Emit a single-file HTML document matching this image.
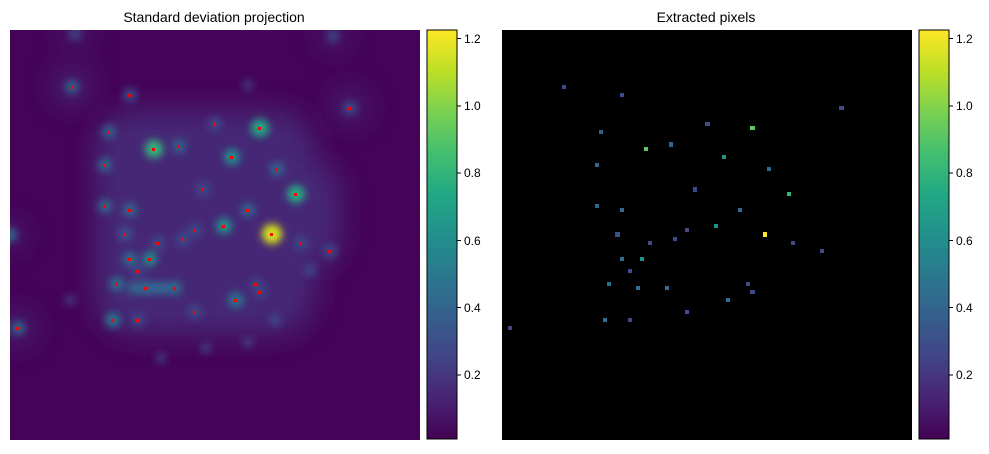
<!DOCTYPE html>
<html><head><meta charset="utf-8"><style>
body{margin:0;background:#fff;width:989px;height:449px;overflow:hidden;font-family:"Liberation Sans",sans-serif}
</style></head><body>
<svg width="989" height="449" xmlns="http://www.w3.org/2000/svg" font-family="Liberation Sans, sans-serif">
<defs>
<filter id="b" x="-50%" y="-50%" width="200%" height="200%"><feGaussianBlur stdDeviation="4"/></filter>
<filter id="h" x="-50%" y="-50%" width="200%" height="200%"><feGaussianBlur stdDeviation="14"/></filter>
<linearGradient id="vir" x1="0" y1="1" x2="0" y2="0">
<stop offset="0" stop-color="#440154"/><stop offset="0.1" stop-color="#482475"/><stop offset="0.2" stop-color="#414487"/><stop offset="0.3" stop-color="#355f8d"/><stop offset="0.4" stop-color="#2a788e"/><stop offset="0.5" stop-color="#21918c"/><stop offset="0.6" stop-color="#22a884"/><stop offset="0.7" stop-color="#44bf70"/><stop offset="0.8" stop-color="#7ad151"/><stop offset="0.9" stop-color="#bddf26"/><stop offset="1" stop-color="#fde725"/>
</linearGradient>
<clipPath id="cl"><rect x="10" y="30" width="410" height="410"/></clipPath>
</defs>
<text x="214" y="22" font-size="14" text-anchor="middle">Standard deviation projection</text>
<text x="706" y="22" font-size="14" text-anchor="middle">Extracted pixels</text>
<g clip-path="url(#cl)">
<rect x="10" y="30" width="410" height="410" fill="#450457"/>
<g filter="url(#h)" fill="#472d7b" opacity="0.85">
<rect x="95" y="110" width="220" height="225" rx="40"/>
<rect x="230" y="160" width="110" height="110" rx="30"/>
</g>
<g filter="url(#h)" fill="#46317e" opacity="0.6">
<circle cx="72" cy="87" r="20"/><circle cx="350" cy="107" r="18"/><circle cx="18" cy="328" r="18"/><circle cx="10" cy="235" r="14"/><circle cx="75" cy="32" r="14"/><circle cx="333" cy="35" r="14"/>
</g>
<g filter="url(#b)">
<circle cx="72" cy="87" r="7" fill="#33638d"/><circle cx="130" cy="95" r="7" fill="#3e4a89"/><circle cx="350" cy="108" r="7" fill="#3e4a89"/>
<circle cx="215" cy="124" r="7" fill="#3e4a89"/><circle cx="260" cy="128" r="9" fill="#22a884"/><circle cx="109" cy="132" r="7" fill="#33638d"/>
<circle cx="154" cy="149" r="9" fill="#35b779"/><circle cx="179" cy="146" r="7" fill="#33638d"/><circle cx="105" cy="165" r="7" fill="#31688e"/>
<circle cx="232" cy="157" r="8" fill="#21918c"/><circle cx="277" cy="169" r="7" fill="#31688e"/><circle cx="203" cy="189" r="7" fill="#3e4a89"/>
<circle cx="296" cy="194" r="9" fill="#27ad81"/><circle cx="105" cy="206" r="7" fill="#31688e"/><circle cx="130" cy="210" r="7" fill="#31688e"/>
<circle cx="248" cy="210" r="7" fill="#31688e"/><circle cx="224" cy="226" r="8" fill="#21918c"/><circle cx="195" cy="230" r="7" fill="#3e4a89"/>
<circle cx="272" cy="234" r="10" fill="#d8e219"/><circle cx="125" cy="234" r="7" fill="#3b528b"/><circle cx="158" cy="243" r="7" fill="#3e4a89"/>
<circle cx="183" cy="239" r="7" fill="#3e4a89"/><circle cx="301" cy="243" r="7" fill="#3e4a89"/><circle cx="330" cy="251" r="7" fill="#3e4a89"/>
<circle cx="130" cy="259" r="7" fill="#2c728e"/><circle cx="150" cy="259" r="7" fill="#21918c"/><circle cx="138" cy="271" r="6" fill="#3e4a89"/>
<circle cx="117" cy="284" r="7" fill="#2c728e"/><circle cx="256" cy="284" r="6" fill="#3e4a89"/><circle cx="146" cy="288" r="7" fill="#2c728e"/>
<circle cx="175" cy="288" r="7" fill="#2c728e"/><rect x="128" y="282" width="50" height="12" fill="#31688e"/><circle cx="260" cy="292" r="6" fill="#3e4a89"/>
<circle cx="236" cy="300" r="8" fill="#2c728e"/><circle cx="195" cy="312" r="7" fill="#3e4a89"/><circle cx="113" cy="320" r="8" fill="#2c728e"/>
<circle cx="138" cy="320" r="7" fill="#3e4a89"/><circle cx="18" cy="328" r="7" fill="#31688e"/><circle cx="10" cy="235" r="7" fill="#31688e"/>
<circle cx="75" cy="34" r="6" fill="#3e4a89"/><circle cx="333" cy="36" r="6" fill="#3e4a89"/><circle cx="70" cy="300" r="5" fill="#414487"/>
<circle cx="310" cy="270" r="6" fill="#3e4a89"/><circle cx="275" cy="320" r="6" fill="#3e4a89"/><circle cx="248" cy="342" r="5" fill="#414487"/>
<circle cx="161" cy="358" r="5" fill="#414487"/><circle cx="206" cy="348" r="5" fill="#414487"/><circle cx="248" cy="85" r="5" fill="#414487"/>
</g>
<g fill="#ff0000">
<rect x="71" y="86" width="3" height="3"/><rect x="128" y="94" width="3" height="3"/><rect x="348" y="107" width="3" height="3"/><rect x="213" y="123" width="3" height="3"/><rect x="258" y="127" width="3" height="3"/><rect x="107" y="131" width="3" height="3"/><rect x="152" y="148" width="3" height="3"/><rect x="177" y="145" width="3" height="3"/><rect x="103" y="164" width="3" height="3"/><rect x="230" y="156" width="3" height="3"/><rect x="275" y="168" width="3" height="3"/><rect x="201" y="188" width="3" height="3"/><rect x="294" y="193" width="3" height="3"/><rect x="103" y="205" width="3" height="3"/><rect x="128" y="209" width="3" height="3"/><rect x="246" y="209" width="3" height="3"/><rect x="222" y="225" width="3" height="3"/><rect x="193" y="229" width="3" height="3"/><rect x="270" y="233" width="3" height="3"/><rect x="123" y="233" width="3" height="3"/><rect x="156" y="242" width="3" height="3"/><rect x="181" y="238" width="3" height="3"/><rect x="299" y="242" width="3" height="3"/><rect x="328" y="250" width="3" height="3"/><rect x="128" y="258" width="3" height="3"/><rect x="148" y="258" width="3" height="3"/><rect x="136" y="270" width="3" height="3"/><rect x="115" y="283" width="3" height="3"/><rect x="254" y="283" width="3" height="3"/><rect x="144" y="287" width="3" height="3"/><rect x="173" y="287" width="3" height="3"/><rect x="258" y="291" width="3" height="3"/><rect x="234" y="299" width="3" height="3"/><rect x="193" y="311" width="3" height="3"/><rect x="111" y="319" width="3" height="3"/><rect x="136" y="319" width="3" height="3"/><rect x="16" y="327" width="3" height="3"/>
</g>
</g>
<rect x="502" y="30" width="410" height="410" fill="#000"/>
<g>
<rect x="562" y="85" width="4" height="4" fill="#3e4a89"/><rect x="620" y="93" width="4" height="4" fill="#3e4a89"/><rect x="839" y="106" width="5" height="4" fill="#3e4a89"/>
<rect x="705" y="122" width="5" height="4" fill="#3e4a89"/><rect x="750" y="126" width="5" height="4" fill="#5ec962"/><rect x="599" y="130" width="4" height="4" fill="#33638d"/>
<rect x="644" y="147" width="4" height="4" fill="#5ec962"/><rect x="669" y="142" width="4" height="5" fill="#33638d"/><rect x="595" y="163" width="4" height="4" fill="#31688e"/>
<rect x="722" y="155" width="4" height="4" fill="#21918c"/><rect x="767" y="167" width="4" height="4" fill="#31688e"/><rect x="693" y="187" width="4" height="5" fill="#3e4a89"/>
<rect x="787" y="192" width="4" height="4" fill="#35b779"/><rect x="595" y="204" width="4" height="4" fill="#31688e"/><rect x="620" y="208" width="4" height="4" fill="#31688e"/>
<rect x="738" y="208" width="4" height="4" fill="#31688e"/><rect x="714" y="224" width="4" height="4" fill="#21918c"/><rect x="685" y="228" width="4" height="4" fill="#3e4a89"/>
<rect x="763" y="232" width="4" height="5" fill="#fde725"/><rect x="615" y="232" width="5" height="5" fill="#3b528b"/><rect x="648" y="241" width="4" height="4" fill="#3e4a89"/>
<rect x="673" y="237" width="4" height="4" fill="#3e4a89"/><rect x="791" y="241" width="4" height="4" fill="#3e4a89"/><rect x="820" y="249" width="4" height="4" fill="#3e4a89"/>
<rect x="620" y="257" width="4" height="4" fill="#2c728e"/><rect x="640" y="257" width="4" height="4" fill="#21918c"/><rect x="628" y="269" width="4" height="4" fill="#3e4a89"/>
<rect x="607" y="282" width="4" height="4" fill="#2c728e"/><rect x="746" y="282" width="4" height="4" fill="#3e4a89"/><rect x="636" y="286" width="4" height="4" fill="#2c728e"/>
<rect x="665" y="286" width="4" height="4" fill="#2c728e"/><rect x="750" y="290" width="5" height="4" fill="#3e4a89"/><rect x="726" y="298" width="4" height="4" fill="#2c728e"/>
<rect x="685" y="310" width="4" height="4" fill="#3e4a89"/><rect x="603" y="318" width="4" height="4" fill="#2c728e"/><rect x="628" y="318" width="4" height="4" fill="#3e4a89"/>
<rect x="508" y="326" width="4" height="4" fill="#3e4a89"/>
</g>
<g font-size="12" fill="#000">
<rect x="427" y="30" width="30" height="409" fill="url(#vir)" stroke="#000" stroke-width="1"/>
<g stroke="#000"><line x1="457" y1="375" x2="461" y2="375"/><line x1="457" y1="307.5" x2="461" y2="307.5"/><line x1="457" y1="240.5" x2="461" y2="240.5"/><line x1="457" y1="173" x2="461" y2="173"/><line x1="457" y1="106" x2="461" y2="106"/><line x1="457" y1="38.5" x2="461" y2="38.5"/></g>
<text x="464" y="379">0.2</text><text x="464" y="312">0.4</text><text x="464" y="245">0.6</text><text x="464" y="177">0.8</text><text x="464" y="110">1.0</text><text x="464" y="43">1.2</text>
<rect x="919" y="30" width="30" height="409" fill="url(#vir)" stroke="#000" stroke-width="1"/>
<g stroke="#000"><line x1="949" y1="375" x2="953" y2="375"/><line x1="949" y1="307.5" x2="953" y2="307.5"/><line x1="949" y1="240.5" x2="953" y2="240.5"/><line x1="949" y1="173" x2="953" y2="173"/><line x1="949" y1="106" x2="953" y2="106"/><line x1="949" y1="38.5" x2="953" y2="38.5"/></g>
<text x="956" y="379">0.2</text><text x="956" y="312">0.4</text><text x="956" y="245">0.6</text><text x="956" y="177">0.8</text><text x="956" y="110">1.0</text><text x="956" y="43">1.2</text>
</g>
</svg>
</body></html>
